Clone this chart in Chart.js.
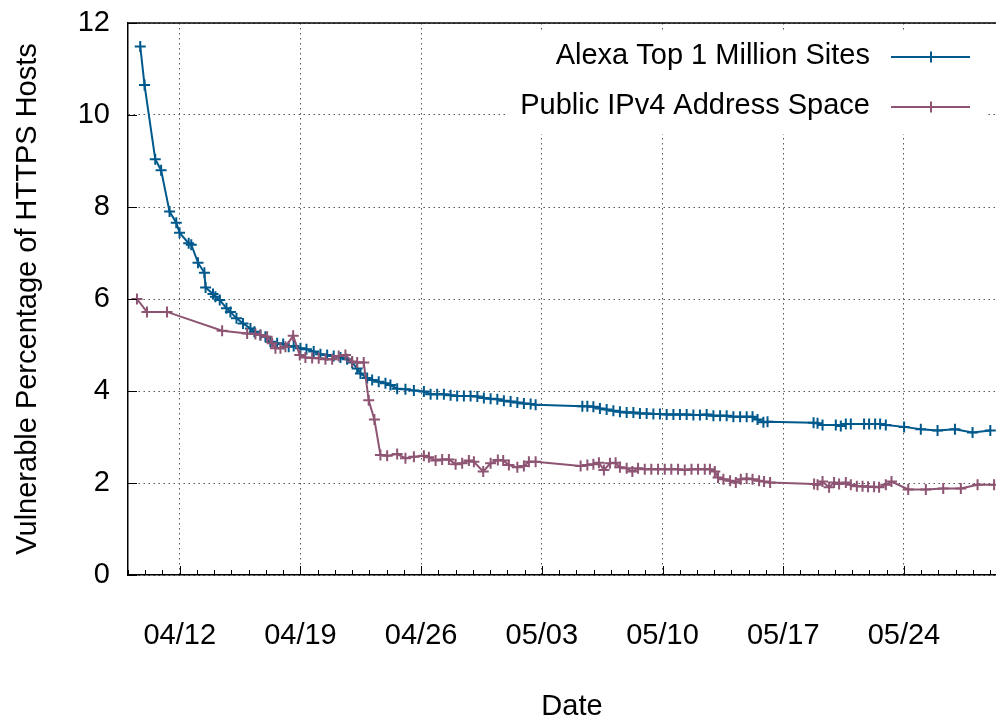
<!DOCTYPE html>
<html>
<head>
<meta charset="utf-8">
<script src="https://cdn.jsdelivr.net/npm/chart.js@4.4.1/dist/chart.umd.min.js"></script>
<style>
  html, body { margin: 0; padding: 0; background: #fff; overflow: hidden; }
  #wrap { width: 996px; height: 719px; overflow: hidden; position: relative; }
  canvas { display: block; }
</style>
</head>
<body>
<div id="wrap"><canvas id="chart" width="1016" height="719"></canvas></div>
<script>
// Time axis: days counted from 04/09 00:00
const weekTickDays   = [3, 10, 17, 24, 31, 38, 45];
const weekTickLabels = ['04/12', '04/19', '04/26', '05/03', '05/10', '05/17', '05/24'];
const yTickValues    = [0, 2, 4, 6, 8, 10, 12];

const seriesNames  = ['Alexa Top 1 Million Sites', 'Public IPv4 Address Space'];
const seriesColors = ['#00598c', '#8e5473'];

// Alexa Top 1 Million Sites
const alexaDays = [
  0.71, 0.96, 1.58, 1.92, 2.41, 2.80, 2.99, 3.52, 3.67, 4.06,
  4.43, 4.50, 4.93, 5.07, 5.32, 5.71, 5.94, 6.29, 6.67, 7.10,
  7.33, 7.68, 7.97, 8.26, 8.65, 9.00, 9.32, 9.61, 10.00, 10.35,
  10.77, 11.16, 11.55, 11.93, 12.32, 12.71, 13.00, 13.29, 13.48, 13.87,
  14.16, 14.54, 14.93, 15.22, 15.61, 16.09, 16.58, 17.16, 17.55, 17.93,
  18.32, 18.71, 19.09, 19.48, 19.87, 20.26, 20.64, 21.03, 21.42, 21.80,
  22.19, 22.58, 22.96, 23.35, 23.64, 26.35, 26.64, 26.99, 27.37, 27.76,
  28.15, 28.53, 28.92, 29.31, 29.69, 30.08, 30.47, 30.85, 31.24, 31.63,
  32.01, 32.40, 32.79, 33.17, 33.56, 33.95, 34.34, 34.72, 35.11, 35.50,
  35.88, 36.22, 36.51, 36.85, 37.09, 39.76, 39.99, 40.28, 41.05, 41.34,
  41.63, 41.92, 42.69, 42.98, 43.33, 43.62, 43.95, 45.01, 45.98, 46.95,
  47.96, 48.98, 50.01
];
const alexaValues = [
  11.49, 10.65, 9.04, 8.80, 7.90, 7.66, 7.44, 7.21, 7.18, 6.79,
  6.57, 6.25, 6.11, 6.05, 5.98, 5.80, 5.72, 5.58, 5.47, 5.36,
  5.29, 5.22, 5.18, 5.07, 5.04, 5.02, 4.96, 4.98, 4.93, 4.91,
  4.86, 4.80, 4.78, 4.76, 4.73, 4.69, 4.62, 4.49, 4.38, 4.28,
  4.24, 4.20, 4.17, 4.13, 4.05, 4.04, 4.01, 3.99, 3.93, 3.93,
  3.93, 3.91, 3.89, 3.89, 3.89, 3.88, 3.85, 3.83, 3.82, 3.79,
  3.77, 3.75, 3.73, 3.72, 3.70, 3.67, 3.67, 3.66, 3.62, 3.60,
  3.57, 3.55, 3.53, 3.53, 3.51, 3.51, 3.50, 3.50, 3.49, 3.49,
  3.49, 3.49, 3.48, 3.48, 3.49, 3.46, 3.46, 3.46, 3.44, 3.44,
  3.44, 3.44, 3.38, 3.32, 3.33, 3.31, 3.30, 3.26, 3.26, 3.24,
  3.28, 3.28, 3.28, 3.28, 3.28, 3.28, 3.26, 3.22, 3.17, 3.14,
  3.17, 3.10, 3.14
];

// Public IPv4 Address Space
const ipv4Days = [
  0.52, 1.10, 2.26, 5.46, 6.91, 7.39, 7.68, 8.07, 8.36, 8.55,
  8.84, 9.13, 9.58, 9.96, 10.29, 10.68, 11.06, 11.45, 11.84, 12.22,
  12.61, 13.00, 13.29, 13.67, 13.96, 14.29, 14.64, 15.03, 15.61, 16.09,
  16.58, 17.16, 17.45, 17.84, 18.22, 18.61, 19.00, 19.38, 19.77, 20.06,
  20.60, 21.03, 21.45, 21.76, 22.09, 22.58, 22.96, 23.25, 23.64, 26.25,
  26.64, 26.99, 27.31, 27.60, 27.95, 28.28, 28.53, 28.92, 29.25, 29.58,
  29.97, 30.35, 30.74, 31.13, 31.51, 31.90, 32.29, 32.68, 33.06, 33.45,
  33.75, 34.03, 34.22, 34.53, 34.92, 35.25, 35.54, 35.88, 36.22, 36.60,
  36.89, 37.24, 39.79, 39.99, 40.28, 40.66, 40.95, 41.24, 41.63, 41.92,
  42.27, 42.60, 42.92, 43.27, 43.56, 43.95, 44.28, 45.25, 46.27, 47.28,
  48.30, 49.27, 50.23
];
const ipv4Values = [
  6.00, 5.72, 5.72, 5.31, 5.25, 5.24, 5.22, 5.18, 5.04, 4.93,
  4.93, 4.96, 5.20, 4.78, 4.73, 4.72, 4.71, 4.69, 4.69, 4.76,
  4.78, 4.64, 4.62, 4.62, 3.80, 3.38, 2.61, 2.59, 2.63, 2.54,
  2.57, 2.59, 2.56, 2.49, 2.51, 2.51, 2.41, 2.43, 2.49, 2.46,
  2.25, 2.43, 2.50, 2.49, 2.39, 2.34, 2.37, 2.46, 2.46, 2.37,
  2.39, 2.41, 2.44, 2.28, 2.43, 2.44, 2.34, 2.32, 2.25, 2.32,
  2.30, 2.30, 2.30, 2.30, 2.30, 2.30, 2.28, 2.30, 2.30, 2.30,
  2.30, 2.25, 2.12, 2.08, 2.05, 2.01, 2.08, 2.10, 2.08, 2.05,
  2.03, 2.01, 1.98, 1.96, 2.03, 1.91, 2.01, 1.98, 2.01, 1.96,
  1.93, 1.93, 1.92, 1.92, 1.91, 1.96, 2.03, 1.86, 1.86, 1.88,
  1.88, 1.96, 1.96
];

const FONT = { family: '"Liberation Sans", Arial, Helvetica, sans-serif', size: 29 };

function toPoints(days, values) {
  return days.map((d, i) => ({ x: d, y: values[i] }));
}

function lineDataset(idx, points, order) {
  return {
    label: seriesNames[idx],
    data: points,
    borderColor: seriesColors[idx],
    backgroundColor: seriesColors[idx],
    borderWidth: 2,
    pointStyle: 'cross',
    pointRadius: 5.5,
    pointBorderWidth: 2,
    pointBorderColor: seriesColors[idx],
    pointHoverRadius: 5.5,
    tension: 0,
    fill: false,
    order: order
  };
}

// keep the plot frame fixed: no extra room reserved for edge labels
function noEdgePadding(s) {
  s.paddingTop = 0;
  s.paddingBottom = 0;
  s.paddingLeft = 0;
  s.paddingRight = 0;
}

// Frame, inward tick marks and the boxed key in the upper right
const frameAndKey = {
  id: 'frameAndKey',
  afterDraw(chart) {
    const { ctx, chartArea: a, scales: { x, y } } = chart;
    ctx.save();
    ctx.strokeStyle = '#000';
    ctx.lineWidth = 1.5;
    ctx.setLineDash([]);
    const seg = (x1, y1, x2, y2) => { ctx.beginPath(); ctx.moveTo(x1, y1); ctx.lineTo(x2, y2); ctx.stroke(); };

    // daily minor ticks and weekly major ticks on the time axis
    ctx.lineWidth = 1;
    for (let d = Math.ceil(x.min); d <= x.max; d++) {
      const px = Math.round(x.getPixelForValue(d)) + 0.5;
      const len = weekTickDays.includes(d) ? 9 : 5;
      seg(px, a.bottom, px, a.bottom - len);
    }
    // major ticks on the value axis
    yTickValues.forEach(v => {
      const py = Math.round(y.getPixelForValue(v)) + 0.5;
      seg(a.left, py, a.left + 9, py);
    });

    // key
    ctx.fillStyle = '#fff';
    ctx.fillRect(508, 31, 480, 103);
    ctx.font = FONT.size + 'px ' + FONT.family;
    ctx.textAlign = 'right';
    ctx.textBaseline = 'middle';
    const rows = [57, 107];
    chart.data.datasets.forEach((ds, i) => {
      const ry = rows[i];
      ctx.fillStyle = '#000';
      ctx.fillText(ds.label, 870, ry - 1);
      ctx.strokeStyle = ds.borderColor;
      ctx.lineWidth = 2;
      seg(891, ry, 970, ry);
      seg(931, ry - 5.5, 931, ry + 5.5);
      seg(925.5, ry, 936.5, ry);
    });

    // top border
    ctx.strokeStyle = '#000';
    ctx.lineWidth = 1.5;
    seg(a.left, a.top, a.right, a.top);
    ctx.restore();
  }
};

new Chart(document.getElementById('chart'), {
  type: 'line',
  data: {
    datasets: [
      lineDataset(0, toPoints(alexaDays, alexaValues), 1),
      lineDataset(1, toPoints(ipv4Days, ipv4Values), 0)
    ]
  },
  options: {
    responsive: false,
    animation: false,
    devicePixelRatio: 1,
    events: [],
    layout: { autoPadding: false, padding: { top: 23, left: 0, right: 0, bottom: 0 } },
    plugins: { legend: { display: false }, tooltip: { enabled: false } },
    scales: {
      x: {
        type: 'linear',
        min: 0,
        max: 51.5,
        afterBuildTicks: s => { s.ticks = weekTickDays.map(v => ({ value: v })); },
        afterFit: s => { s.height = 144; noEdgePadding(s); },
        ticks: {
          autoSkip: false,
          maxRotation: 0,
          padding: 44,
          color: '#000',
          font: FONT,
          callback: v => weekTickLabels[weekTickDays.indexOf(v)]
        },
        grid: { color: '#555', lineWidth: 1, drawTicks: false },
        border: { display: true, color: '#000', width: 1.5, dash: [1.5, 3.5] },
        title: {
          display: true,
          text: 'Date',
          color: '#000',
          font: Object.assign({}, FONT, { lineHeight: 0.8 }),
          padding: 0
        }
      },
      y: {
        min: 0,
        max: 12,
        afterBuildTicks: s => { s.ticks = yTickValues.map(v => ({ value: v })); },
        afterFit: s => { s.width = 128; noEdgePadding(s); },
        ticks: { padding: 18, color: '#000', font: FONT },
        grid: { color: '#555', lineWidth: 1, drawTicks: false },
        border: { display: true, color: '#000', width: 1.5, dash: [1.5, 3.5] },
        title: {
          display: true,
          text: 'Vulnerable Percentage of HTTPS Hosts',
          color: '#000',
          font: FONT,
          padding: { top: 11, bottom: 0 }
        }
      }
    }
  },
  plugins: [frameAndKey]
});
</script>
</body>
</html>
